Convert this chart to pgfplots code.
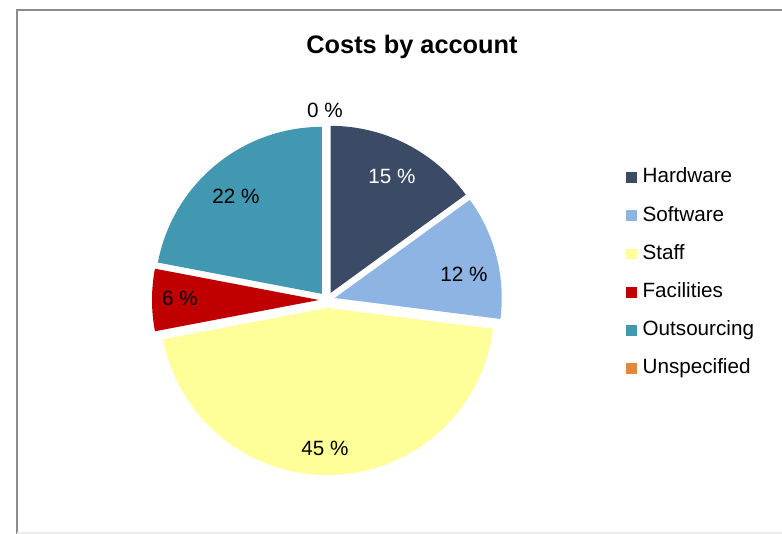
\documentclass[border=0pt]{standalone}
\usepackage{fontspec}
\setmainfont{Liberation Sans}
\usepackage{pgfplots}
\pgfplotsset{compat=1.18}

\definecolor{hardware}{HTML}{3B4A65}
\definecolor{software}{HTML}{8EB4E3}
\definecolor{staff}{HTML}{FFFF99}
\definecolor{facilities}{HTML}{C00000}
\definecolor{outsourcing}{HTML}{4298B0}
\definecolor{unspecified}{HTML}{E0883E}

% pie geometry in pixel units
\def\cx{327}
\def\cy{300}
\def\R{167}
\def\d{8}

% \slice{from %}{to %}{colour}: a wedge, clockwise from 12 o'clock, pulled out by \d
\newcommand\slice[3]{%
  \pgfmathsetmacro\aS{90-3.6*#1}%
  \pgfmathsetmacro\aE{90-3.6*#2}%
  \pgfmathsetmacro\aM{(\aS+\aE)/2}%
  \pgfmathsetmacro\ox{\cx+\d*cos(\aM)}%
  \pgfmathsetmacro\oy{\cy-\d*sin(\aM)}%
  \edef\temp{\noexpand\addplot[fill=#3, draw=none, domain=\aE:\aS, samples=90, variable=\noexpand\t]
    ({\ox+\R*cos(\noexpand\t)},{\oy-\R*sin(\noexpand\t)}) -- (axis cs:\ox,\oy) -- cycle;}%
  \temp
}

\begin{document}
\begin{tikzpicture}
\begin{axis}[
  width=586.5pt, height=400.5pt, scale only axis,
  xmin=0, xmax=782, ymin=0, ymax=534, y dir=reverse,
  hide axis, clip=false,
  legend style={at={(626/782,1-168/534)}, anchor=north west, draw=none, fill=none,
    inner sep=0pt, row sep=14.65pt, column sep=4pt,
    font=\fontsize{15.5}{18}\selectfont,
    nodes={inner sep=0pt, text height=11pt, text depth=3pt}},
  legend cell align=left,
  legend image code/.code={\fill[#1] (0pt,-4.1pt) rectangle (8.25pt,4.1pt);},
]
% shares in percent: Hardware 15, Software 12, Staff 45, Facilities 6, Outsourcing 22, Unspecified 0
\slice{0}{15}{hardware}
\addlegendentry{Hardware}
\slice{15}{27}{software}
\addlegendentry{Software}
\slice{27}{72}{staff}
\addlegendentry{Staff}
\slice{72}{78}{facilities}
\addlegendentry{Facilities}
\slice{78}{100}{outsourcing}
\addlegendentry{Outsourcing}
\addlegendimage{fill=unspecified, draw=none}
\addlegendentry{Unspecified}

% frame
\draw[color=black!45, line width=1.5pt] (axis cs:17,534) -- (axis cs:17,10) -- (axis cs:790,10);
\draw[color=black!8, line width=1pt] (axis cs:17,533) -- (axis cs:790,533);

\node[font=\bfseries\fontsize{19}{22}\selectfont] at (axis cs:412,47) {Costs by account};
\begin{scope}[every node/.style={font=\fontsize{15.5}{18}\selectfont}]
\node[white] at (axis cs:392,176) {15 \%};
\node at (axis cs:464,274) {12 \%};
\node at (axis cs:325,448) {45 \%};
\node at (axis cs:180,298) {6 \%};
\node at (axis cs:236,196) {22 \%};
\node at (axis cs:325,110) {0 \%};
\end{scope}
\end{axis}
\pgfresetboundingbox
\path (current axis.south west) rectangle (current axis.north east);
\end{tikzpicture}
\end{document}
